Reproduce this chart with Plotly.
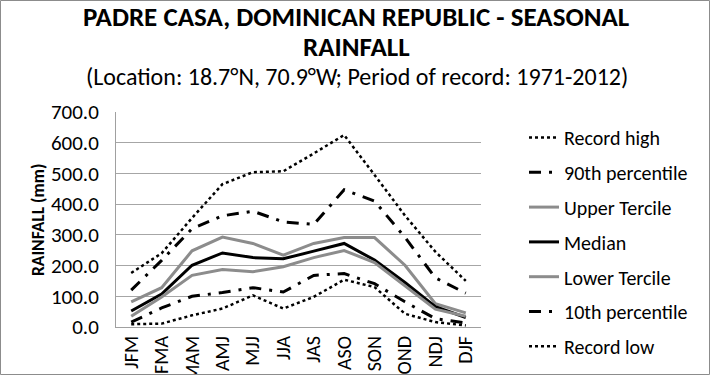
import plotly.graph_objects as go

seasons = ["JFM", "FMA", "MAM", "AMJ", "MJJ", "JJA", "JAS", "ASO", "SON", "OND", "NDJ", "DJF"]
record_high = [176, 240, 355, 465, 504, 507, 565, 625, 495, 363, 245, 150]
pct90 = [120, 217, 320, 362, 377, 342, 334, 447, 410, 292, 160, 110]
upper_tercile = [82, 128, 248, 293, 272, 234, 272, 291, 291, 201, 76, 46]
median = [52, 107, 201, 241, 226, 222, 247, 272, 218, 145, 66, 31]
lower_tercile = [35, 98, 168, 187, 180, 196, 226, 249, 210, 135, 58, 35]
pct10 = [16, 62, 100, 112, 128, 114, 168, 174, 141, 82, 27, 13]
record_low = [9, 11, 38, 60, 103, 60, 98, 154, 130, 43, 16, 5]

series = [
    ("Record high", record_high, "black", 2.5, "dot"),
    ("90th percentile", pct90, "black", 3, "12px,8px,3px,8px"),
    ("Upper Tercile", upper_tercile, "#8c8c8c", 3, "solid"),
    ("Median", median, "black", 3, "solid"),
    ("Lower Tercile", lower_tercile, "#8c8c8c", 3, "solid"),
    ("10th percentile", pct10, "black", 3, "12px,8px,3px,8px"),
    ("Record low", record_low, "black", 2.5, "dot"),
]

FONT = "Carlito, Lato, sans-serif"

fig = go.Figure()
for i, (name, vals, color, width, dash) in enumerate(series):
    fig.add_trace(go.Scatter(
        x=seasons, y=vals, name=name, mode="lines",
        line=dict(color=color, width=width, dash=dash),
        legendgroup=f"g{i}",
    ))

L, R, T, B = 116, 229, 112, 48
W, H = 710, 375
pw, ph = W - L - R, H - T - B

def px(x):
    return (x - L) / pw

def py(y):
    return (H - B - y) / ph

fig.update_layout(
    width=W, height=H,
    margin=dict(l=L, r=R, t=T, b=B, autoexpand=False),
    paper_bgcolor="white", plot_bgcolor="white",
    font=dict(family=FONT, size=20, color="black"),
    showlegend=True,
    legend=dict(
        x=px(524), y=py(118), xanchor="left", yanchor="top",
        font=dict(family=FONT, size=20, color="black"),
        tracegroupgap=5.8, itemwidth=30, bgcolor="rgba(0,0,0,0)",
        maxheight=400,
    ),
    xaxis=dict(
        type="category", range=[-0.5, 11.5], showgrid=False,
        showline=True, linecolor="#a0a0a0", linewidth=1,
        tickangle=-90, ticks="", tickfont=dict(size=20, family=FONT),
    ),
    yaxis=dict(
        range=[0, 700], dtick=100, tickformat=".1f",
        showgrid=True, gridcolor="#a6a6a6", gridwidth=1,
        showline=True, linecolor="#a0a0a0", linewidth=1,
        zeroline=False, ticks="", tickfont=dict(size=21, family=FONT),
        ticklabelstandoff=12,
    ),
    shapes=[dict(
        type="rect", xref="paper", yref="paper",
        x0=px(0.5), x1=px(709.5), y0=py(374.5), y1=py(0.5),
        line=dict(color="#8c8c8c", width=1),
    )],
    annotations=[
        dict(text="<b>PADRE CASA, DOMINICAN REPUBLIC - SEASONAL</b>", x=px(356), y=py(16),
             xref="paper", yref="paper", showarrow=False, xanchor="center", yanchor="middle",
             font=dict(family=FONT, size=27)),
        dict(text="<b>RAINFALL</b>", x=px(356), y=py(46),
             xref="paper", yref="paper", showarrow=False, xanchor="center", yanchor="middle",
             font=dict(family=FONT, size=27)),
        dict(text="(Location: 18.7°N, 70.9°W; Period of record: 1971-2012)", x=px(357), y=py(76),
             xref="paper", yref="paper", showarrow=False, xanchor="center", yanchor="middle",
             font=dict(family=FONT, size=24)),
        dict(text="<b>RAINFALL (mm)</b>", x=px(38), y=py(220), textangle=-90,
             xref="paper", yref="paper", showarrow=False, xanchor="center", yanchor="middle",
             font=dict(family=FONT, size=17.5)),
    ],
)

fig.write_html("out.html", config={"displayModeBar": False},
               post_script="document.body.style.margin='0';document.body.style.overflow='hidden';")
